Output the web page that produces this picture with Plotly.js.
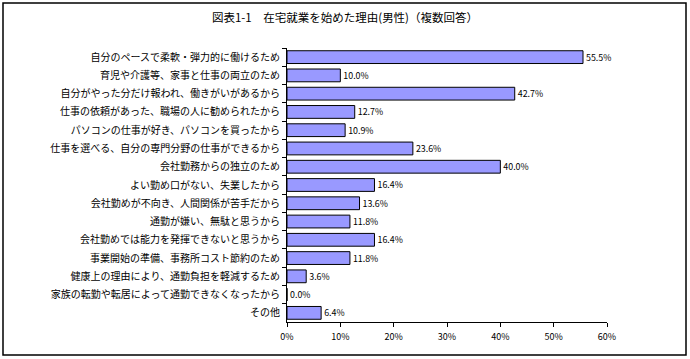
<!DOCTYPE html>
<html><head><meta charset="utf-8">
<script src="https://cdn.plot.ly/plotly-3.0.1.min.js"></script>
<style>html,body{margin:0;padding:0;background:#fff}#chart{width:690px;height:359px}</style>
</head><body><div id="chart"></div>
<script>
const categories = [
  "自分のペースで柔軟・弾力的に働けるため",
  "育児や介護等、家事と仕事の両立のため",
  "自分がやった分だけ報われ、働きがいがあるから",
  "仕事の依頼があった、職場の人に勧められたから",
  "パソコンの仕事が好き、パソコンを買ったから",
  "仕事を選べる、自分の専門分野の仕事ができるから",
  "会社勤務からの独立のため",
  "よい勤め口がない、失業したから",
  "会社勤めが不向き、人間関係が苦手だから",
  "通勤が嫌い、無駄と思うから",
  "会社勤めでは能力を発揮できないと思うから",
  "事業開始の準備、事務所コスト節約のため",
  "健康上の理由により、通勤負担を軽減するため",
  "家族の転勤や転居によって通勤できなくなったから",
  "その他"
];
const values = [55.5, 10.0, 42.7, 12.7, 10.9, 23.6, 40.0, 16.4, 13.6, 11.8, 16.4, 11.8, 3.6, 0.0, 6.4];
const valueLabels = values.map(v => v.toFixed(1) + "%");
const xTickVals = [0, 10, 20, 30, 40, 50, 60];
const xTickText = xTickVals.map(v => v + "%");

const font = "'Noto Sans CJK JP', 'Noto Sans', sans-serif";
const L = 287, R = 83, T = 48, B = 37;
const pw = 690 - L - R, ph = 359 - T - B;

Plotly.newPlot("chart", [{
  type: "bar",
  orientation: "h",
  y: categories,
  x: values,
  text: valueLabels,
  textposition: "outside",
  cliponaxis: false,
  textfont: {family: font, size: 9, color: "#000"},
  marker: {color: "#9999ff", line: {color: "#000", width: 1}},
  hoverinfo: "none"
}], {
  width: 690, height: 359,
  margin: {l: L, r: R, t: T, b: B, pad: 0},
  paper_bgcolor: "#fff", plot_bgcolor: "#fff",
  showlegend: false,
  bargap: 0.3,
  title: {text: "図表1-1\u3000在宅就業を始めた理由(男性)（複数回答）", font: {family: font, size: 11.5, color: "#000"}, x: 0.5, xanchor: "center", y: 0.95, yanchor: "middle"},
  font: {family: font, color: "#000"},
  xaxis: {
    range: [0, 60], tickvals: xTickVals, ticktext: xTickText,
    showgrid: false, zeroline: false, showline: true, linecolor: "#000", linewidth: 1,
    ticks: "outside", ticklen: 4, tickcolor: "#000",
    tickfont: {family: font, size: 9, color: "#000"}, ticklabelstandoff: 2, fixedrange: true
  },
  yaxis: {
    type: "category", autorange: "reversed",
    showgrid: false, zeroline: false, showline: true, linecolor: "#000", linewidth: 1,
    ticks: "outside", ticklen: 4, tickcolor: "#000", tickson: "boundaries",
    tickfont: {family: font, size: 10, color: "#000"}, ticklabelstandoff: 4, fixedrange: true
  },
  shapes: [{
    type: "rect", xref: "paper", yref: "paper",
    x0: (3 - L) / pw, x1: (686 - L) / pw,
    y0: -(355 - (359 - B)) / ph, y1: ((359 - B) - 3) / ph,
    line: {color: "#000", width: 1.5}, fillcolor: "rgba(0,0,0,0)"
  }]
}, {displayModeBar: false, staticPlot: true});
</script></body></html>
